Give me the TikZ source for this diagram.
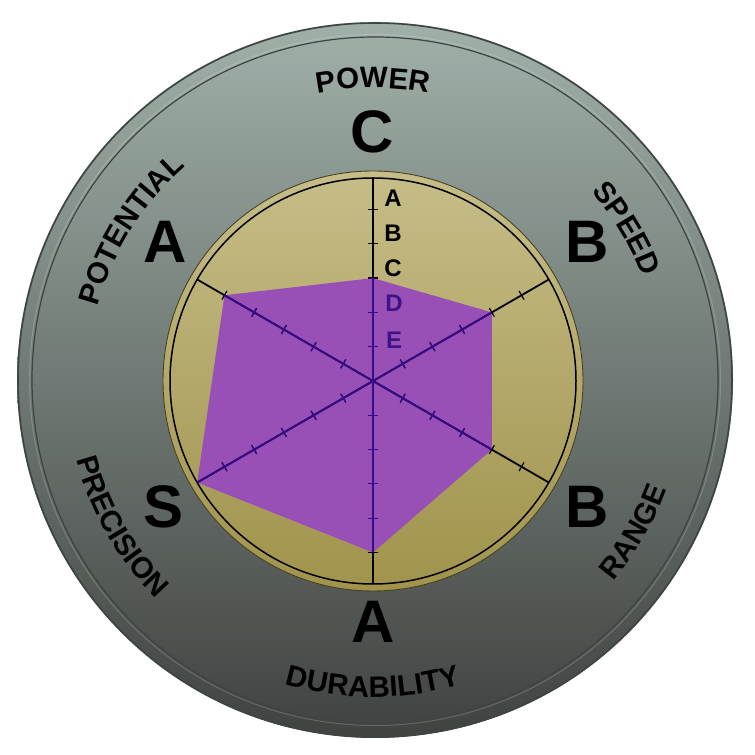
\documentclass[tikz,border=0pt]{standalone}
\usepackage{fontspec}
\setmainfont{Liberation Sans}
\usetikzlibrary{decorations.text}
\definecolor{grayTop}{RGB}{160,176,169}
\definecolor{grayBot}{RGB}{64,66,64}
\definecolor{khakiTop}{RGB}{198,189,136}
\definecolor{khakiBot}{RGB}{160,147,76}
\definecolor{polyFill}{RGB}{152,80,182}
\definecolor{indigoLine}{RGB}{55,10,140}
\definecolor{letterPurple}{RGB}{62,20,132}
\definecolor{rimLine}{RGB}{62,68,65}
\newcommand\catfont{\fontsize{29.5}{29.5}\selectfont\bfseries}
\begin{document}
\begin{tikzpicture}[x=1pt,y=1pt,
  grade/.style={font=\fontsize{60}{60}\selectfont\bfseries, inner sep=0pt},
  scalelbl/.style={font=\fontsize{24}{24}\selectfont\bfseries, inner sep=0pt},
  axisline/.style={line width=1.8pt},
  tickline/.style={line width=1.2pt},
  arclabel/.style={decorate, decoration={text along path, text align=center, text={|\catfont|#1}}}
  ]
\useasboundingbox (0,0) rectangle (755,755);
\coordinate (O) at (375,375);
\coordinate (M) at (373,374);
% outer disc
\shade[top color=grayTop, bottom color=grayBot] (O) circle[radius=358];
\draw[rimLine, line width=1.6pt] (O) circle[radius=357];
\draw[white, opacity=0.18, line width=1pt] (O) circle[radius=345.5];
\draw[rimLine, line width=1.2pt] (O) circle[radius=343];
% inner disc
\shade[top color=khakiTop, bottom color=khakiBot] (M) circle[radius=210];
\draw[black!55!khakiBot, line width=0.9pt] (M) circle[radius=210];
\draw[black, line width=1.5pt] (M) circle[radius=203];
% polygon
\def\st{34.3}
\coordinate (pw) at ([shift={(90:3*\st)}]M);
\coordinate (sp) at ([shift={(30:4*\st)}]M);
\coordinate (ra) at ([shift={(-30:4*\st)}]M);
\coordinate (du) at ([shift={(-90:5*\st)}]M);
\coordinate (pr) at ([shift={(210:203)}]M);
\coordinate (po) at ([shift={(150:5*\st)}]M);
\fill[polyFill] (pw) -- (sp) -- (ra) -- (du) -- (pr) -- (po) -- cycle;
% axes black
\foreach \a in {90,30,-30,-90,210,150}{
  \draw[axisline] (M) -- ++(\a:203);
  \foreach \k in {1,...,5}{
    \draw[tickline] ([shift={(\a:\k*\st)}]M) ++(\a+90:5) -- ++(\a-90:10);
  }
}
% axes inside polygon
\begin{scope}
\clip (pw) -- (sp) -- (ra) -- (du) -- (pr) -- (po) -- cycle;
\foreach \a in {90,30,-30,-90,210,150}{
  \draw[axisline, indigoLine] (M) -- ++(\a:203);
  \foreach \k in {1,...,5}{
    \draw[tickline, indigoLine] ([shift={(\a:\k*\st)}]M) ++(\a+90:5) -- ++(\a-90:10);
  }
}
\end{scope}
% scale letters
\node[scalelbl] (sA) at (393,557) {A};
\node[scalelbl] (sB) at (393,522) {B};
\node[scalelbl] (sC) at (393,487) {C};
\node[scalelbl, text=letterPurple] (sD) at (394,452) {D};
\node[scalelbl, text=letterPurple] (sE) at (394,415) {E};
% grades
\node[grade] (gPower) at (372,623) {C};
\node[grade] (gSpeed) at (587,513) {B};
\node[grade] (gRange) at (587,248) {B};
\node[grade] (gDur) at (373,133) {A};
\node[grade] (gPrec) at (164,248) {S};
\node[grade] (gPot) at (165,513) {A};
% category labels along arcs
\path[arclabel=POWER] ([shift={(130:293)}]M) arc[start angle=130, end angle=50, radius=293];
\path[arclabel=SPEED] ([shift={(71:289)}]M) arc[start angle=71, end angle=-9, radius=289];
\path[arclabel=RANGE] ([shift={(-70:313)}]M) arc[start angle=-70, end angle=10, radius=313];
\path[arclabel=DURABILITY] ([shift={(-140:316)}]M) arc[start angle=-140, end angle=-40, radius=316];
\path[arclabel=PRECISION] ([shift={(170:307)}]M) arc[start angle=170, end angle=250, radius=307];
\path[arclabel=POTENTIAL] ([shift={(188:285)}]M) arc[start angle=188, end angle=108, radius=285];
\end{tikzpicture}
\end{document}
